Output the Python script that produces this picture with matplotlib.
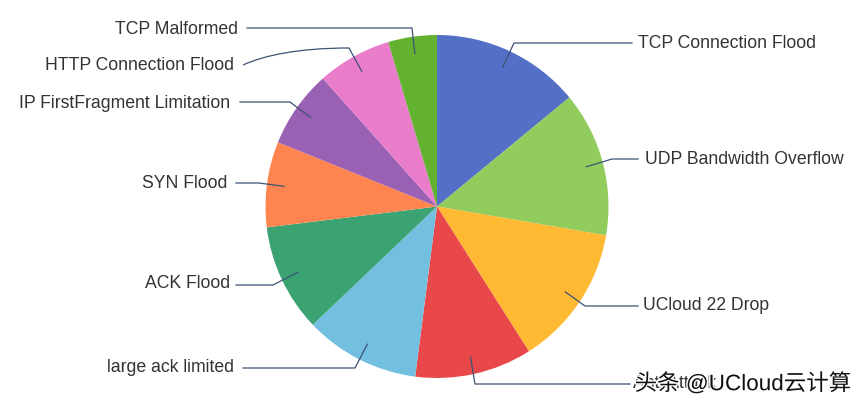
import numpy as np
import matplotlib
matplotlib.use("Agg")
import matplotlib.pyplot as plt
import matplotlib.patheffects as pe
from matplotlib.path import Path
from matplotlib.patches import PathPatch

labels = ["TCP Connection Flood", "UDP Bandwidth Overflow", "UCloud 22 Drop", "Anti Attack",
          "large ack limited", "ACK Flood", "SYN Flood", "IP FirstFragment Limitation",
          "HTTP Connection Flood", "TCP Malformed"]
values = [50.5, 49.2, 47.9, 39.7, 39.1, 36.6, 29.0, 26.3, 25.2, 16.5]
colors = ["#546fc6", "#91cc5c", "#ffb933", "#e84849", "#73bfdf",
          "#3ba272", "#ff8550", "#9a60b4", "#ea7ccc", "#62b22f"]

# label layout in picture pixels (y from the top)
label_x = [638, 645, 643, 633, 234, 230, 227, 230, 234, 238]
label_y = [43, 159, 305, 384, 367, 283, 183, 103, 66, 29]
elbow_x = [514, 612, 585, 475, 355, 273, 259, 290, 349, 412]
elbow_y = [43, 159, 306, 384, 368, 285, 183, 102, 48, 28]
line_end = [632, 638, 638, 630, 243, 236, 236, 240, 243, 247]

cx, cy, R = 437, 200.5, 171.5
line_col = "#3c5373"

plt.rcParams["font.family"] = ["Liberation Sans", "DejaVu Sans"]

fig = plt.figure(figsize=(8.64, 4.07), dpi=100)
ax = fig.add_axes([0, 0, 1, 1])
ax.axis("off")

wedges, _ = ax.pie(values, colors=colors, startangle=90, counterclock=False,
                   center=(cx, cy), radius=R, frame=False)
ax.set_xlim(0, 864)
ax.set_ylim(0, 407)
ax.set_aspect("auto")

for i in range(len(labels)):
    w = wedges[i]
    mid = np.radians((w.theta1 + w.theta2) / 2)
    sx = cx + 0.9 * R * np.cos(mid)
    sy = cy + 0.9 * R * np.sin(mid)
    ex = elbow_x[i]
    ey = 407 - elbow_y[i]
    if labels[i] == "HTTP Connection Flood":
        # this one is smoothed in the original
        verts = [(sx, sy), (ex, ey), (300, ey), (265, 352), (line_end[i], 407 - 65)]
        codes = [Path.MOVETO, Path.LINETO, Path.CURVE4, Path.CURVE4, Path.CURVE4]
        ax.add_patch(PathPatch(Path(verts, codes), fc="none", ec=line_col, lw=0.9))
    else:
        ax.plot([sx, ex, line_end[i]], [sy, ey, ey], color=line_col, lw=0.9)
    ha = "left" if label_x[i] > cx else "right"
    ax.text(label_x[i], 407 - label_y[i], labels[i], ha=ha, va="center",
            fontsize=12.7, color="#333333")

wm = ax.text(743, 407 - 384, "头条 @UCloud云计算", ha="center", va="center", fontsize=16.2,
             color="#111111", family=["Liberation Sans", "Noto Sans CJK SC"])
wm.set_path_effects([pe.withStroke(linewidth=2, foreground="white")])

fig.savefig("out.png", dpi=100)
